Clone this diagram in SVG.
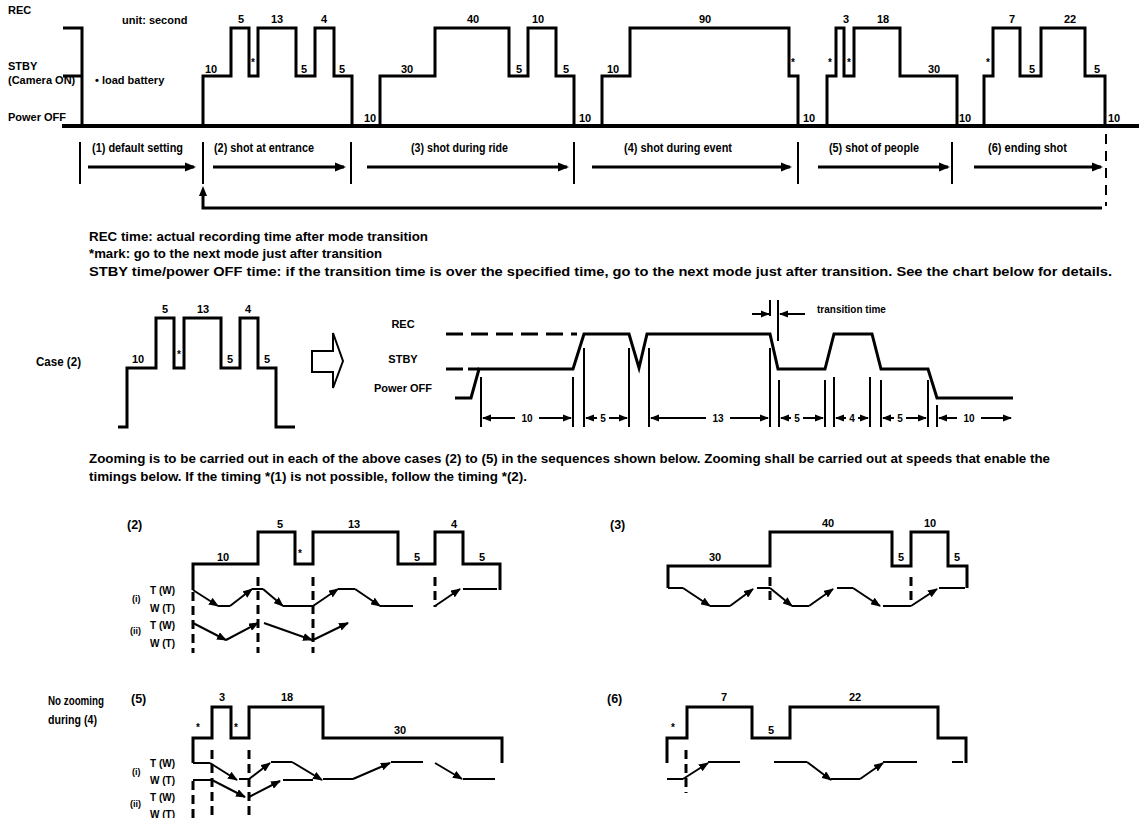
<svg xmlns="http://www.w3.org/2000/svg" width="1139" height="818" viewBox="0 0 1139 818">
<style>
text{font-family:"Liberation Sans",Arial,sans-serif;font-weight:bold;fill:#000}
.s11{font-size:11px}.s10{font-size:10px}.s12{font-size:12.5px}.s9{font-size:9px}.n12{font-size:12px}
.c{text-anchor:middle}
.w{fill:none;stroke:#000;stroke-width:3;stroke-linejoin:miter;stroke-linecap:butt}
.b{fill:none;stroke:#000;stroke-width:4}
.sep{stroke:#000;stroke-width:2}
.ar{stroke:#000;stroke-width:3;fill:none;marker-end:url(#ahB)}
.cv{stroke:#000;stroke-width:2;fill:none}
.ca{stroke:#000;stroke-width:2;fill:none;marker-end:url(#ahS)}
.dsh{stroke:#000;stroke-width:3;stroke-dasharray:9,5;fill:none}
.mk{stroke:#000;stroke-width:2}
.dm{stroke:#000;stroke-width:2;fill:none;marker-end:url(#ahD)}
</style>
<defs>
<marker id="ahB" markerUnits="userSpaceOnUse" markerWidth="11" markerHeight="10" refX="9" refY="5" orient="auto-start-reverse"><path d="M0,0.5 L11,5 L0,9.5 z" fill="#000"/></marker>
<marker id="ahS" markerUnits="userSpaceOnUse" markerWidth="10" markerHeight="8" refX="9" refY="4" orient="auto-start-reverse"><path d="M0,0 L10,4 L0,8 z" fill="#000"/></marker>
<marker id="ahD" markerUnits="userSpaceOnUse" markerWidth="9" markerHeight="8" refX="8" refY="4" orient="auto-start-reverse"><path d="M0,0.5 L9,4 L0,7.5 z" fill="#000"/></marker>
</defs>
<rect width="1139" height="818" fill="#fff"/>

<!-- Top timing chart -->
<g id="top-chart">
<text class="s11" x="8" y="14">REC</text>
<text class="s11" x="122" y="24">unit: second</text>
<text class="s11" x="8" y="70">STBY</text>
<text class="s11" x="8" y="84">(Camera ON)</text>
<text class="s11" x="95" y="84">• load battery</text>
<text class="s11" x="8" y="121">Power OFF</text>
<path class="w" d="M63,28 H82 V126"/>
<path class="w" d="M63,76 H82"/>
<path class="b" d="M62,126 H1139"/>
<path class="w" d="M203,126 V76 H231 V28 H249 V76 H258 V28 H296 V76 H315 V28 H334 V76 H352 V126"/>
<path class="w" d="M380,126 V76 H435 V28 H509 V76 H528 V28 H556 V76 H574 V126"/>
<path class="w" d="M602,126 V76 H630 V28 H789 V76 H798 V126"/>
<path class="w" d="M827,126 V76 H836 V28 H844 V76 H854 V28 H900 V76 H957 V126"/>
<path class="w" d="M984,126 V76 H993 V28 H1020 V76 H1041 V28 H1085 V76 H1105 V126"/>
<text class="s11 c" x="211" y="73">10</text>
<text class="s11 c" x="241" y="23">5</text>
<text class="s10 c" x="253" y="66">*</text>
<text class="s11 c" x="277" y="23">13</text>
<text class="s11 c" x="304" y="73">5</text>
<text class="s11 c" x="324" y="23">4</text>
<text class="s11 c" x="342" y="73">5</text>
<text class="s11 c" x="370" y="122">10</text>
<text class="s11 c" x="407" y="73">30</text>
<text class="s11 c" x="473" y="23">40</text>
<text class="s11 c" x="519" y="73">5</text>
<text class="s11 c" x="538" y="23">10</text>
<text class="s11 c" x="566" y="73">5</text>
<text class="s11 c" x="585" y="122">10</text>
<text class="s11 c" x="613" y="73">10</text>
<text class="s11 c" x="705" y="23">90</text>
<text class="s10 c" x="793" y="66">*</text>
<text class="s11 c" x="809" y="122">10</text>
<text class="s10 c" x="830" y="66">*</text>
<text class="s11 c" x="846" y="23">3</text>
<text class="s10 c" x="849" y="66">*</text>
<text class="s11 c" x="883" y="23">18</text>
<text class="s11 c" x="934" y="73">30</text>
<text class="s11 c" x="965" y="122">10</text>
<text class="s10 c" x="988" y="66">*</text>
<text class="s11 c" x="1012" y="23">7</text>
<text class="s11 c" x="1032" y="73">5</text>
<text class="s11 c" x="1070" y="23">22</text>
<text class="s11 c" x="1097" y="73">5</text>
<text class="s11 c" x="1114" y="122">10</text>
</g>

<!-- Sequence row -->
<g id="seq-row">
<g id="seq-1"><text class="n12" x="92" y="152" textLength="91" lengthAdjust="spacingAndGlyphs">(1) default setting</text></g>
<g id="seq-2"><text class="n12" x="214" y="152" textLength="100" lengthAdjust="spacingAndGlyphs">(2) shot at entrance</text></g>
<g id="seq-3"><text class="n12" x="411" y="152" textLength="97" lengthAdjust="spacingAndGlyphs">(3) shot during ride</text></g>
<g id="seq-4"><text class="n12" x="624" y="152" textLength="108" lengthAdjust="spacingAndGlyphs">(4) shot during event</text></g>
<g id="seq-5"><text class="n12" x="829" y="152" textLength="90" lengthAdjust="spacingAndGlyphs">(5) shot of people</text></g>
<g id="seq-6"><text class="n12" x="988" y="152" textLength="79" lengthAdjust="spacingAndGlyphs">(6) ending shot</text></g>
</g>
<g id="seq-connectors">
<line class="sep" x1="80" y1="142" x2="80" y2="184"/>
<line class="sep" x1="203" y1="142" x2="203" y2="184"/>
<line class="sep" x1="351" y1="142" x2="351" y2="184"/>
<line class="sep" x1="574" y1="142" x2="574" y2="184"/>
<line class="sep" x1="798" y1="142" x2="798" y2="184"/>
<line class="sep" x1="952" y1="142" x2="952" y2="184"/>
<line x1="1106" y1="134" x2="1106" y2="206" stroke="#000" stroke-width="2" stroke-dasharray="10,7"/>
<line class="ar" x1="88" y1="167" x2="194" y2="167"/>
<line class="ar" x1="213" y1="167" x2="344" y2="167"/>
<line class="ar" x1="367" y1="167" x2="567" y2="167"/>
<line class="ar" x1="592" y1="167" x2="790" y2="167"/>
<line class="ar" x1="818" y1="167" x2="948" y2="167"/>
<line class="ar" x1="974" y1="167" x2="1101" y2="167"/>
<path d="M1102,208 H203 V192" stroke="#000" stroke-width="3" fill="none"/>
<path d="M203,186 L199,196 L207,196 z" fill="#000"/>
</g>

<!-- Notes -->
<g id="notes">
<text class="n12" x="89" y="241" textLength="339" lengthAdjust="spacingAndGlyphs">REC time: actual recording time after mode transition</text>
<text class="n12" x="89" y="258" textLength="293" lengthAdjust="spacingAndGlyphs">*mark: go to the next mode just after transition</text>
<text class="n12" x="89" y="276" textLength="1023" lengthAdjust="spacingAndGlyphs">STBY time/power OFF time: if the transition time is over the specified time, go to the next mode just after transition. See the chart below for details.</text>
</g>

<!-- Case (2) -->
<g id="case2">
<text class="s12" x="36" y="366" textLength="45" lengthAdjust="spacingAndGlyphs">Case (2)</text>
<path class="w" d="M118,427 H127 V368 H156 V318 H174 V368 H184 V318 H221 V368 H240 V318 H258 V368 H276 V427 H295"/>
<text class="s11 c" x="138" y="363">10</text>
<text class="s11 c" x="165" y="313">5</text>
<text class="s10 c" x="179" y="358">*</text>
<text class="s11 c" x="203" y="313">13</text>
<text class="s11 c" x="230" y="363">5</text>
<text class="s11 c" x="248" y="313">4</text>
<text class="s11 c" x="267" y="363">5</text>
</g>
<g id="big-arrow">
<path d="M312,351 H333 V333 L343,361 L333,388 V372 H312 z" fill="#fff" stroke="#000" stroke-width="2"/>
</g>

<!-- Transition detail chart -->
<g id="transition-chart">
<text class="s11 c" x="403" y="328">REC</text>
<text class="s11 c" x="403" y="363">STBY</text>
<text class="s11 c" x="403" y="392">Power OFF</text>
<line x1="446" y1="334" x2="577" y2="334" stroke="#000" stroke-width="3" stroke-dasharray="17,8"/>
<line x1="446" y1="369" x2="479" y2="369" stroke="#000" stroke-width="3" stroke-dasharray="17,5"/>
<path class="w" d="M455,398 H471 L479,369 H573 L584,334 H629 L639,368 L647,334 H770 L778,369 H825 L834,334 H872 L881,369 H928 L937,398 H1013"/>
<g class="mk">
<line x1="481" y1="377" x2="481" y2="427"/>
<line x1="573" y1="377" x2="573" y2="427"/>
<line x1="584" y1="348" x2="584" y2="427"/>
<line x1="629" y1="348" x2="629" y2="427"/>
<line x1="649" y1="348" x2="649" y2="427"/>
<line x1="770" y1="348" x2="770" y2="427"/>
<line x1="779" y1="380" x2="779" y2="427"/>
<line x1="825" y1="380" x2="825" y2="427"/>
<line x1="834" y1="377" x2="834" y2="427"/>
<line x1="870" y1="377" x2="870" y2="427"/>
<line x1="881" y1="380" x2="881" y2="427"/>
<line x1="928" y1="380" x2="928" y2="427"/>
<line x1="937" y1="405" x2="937" y2="427"/>
<line x1="770" y1="300" x2="770" y2="316"/>
<line x1="778" y1="300" x2="778" y2="341"/>
</g>
<line class="dm" x1="752" y1="314" x2="769" y2="314"/>
<line class="dm" x1="805" y1="314" x2="780" y2="314"/>
<text class="s10" x="817" y="313">transition time</text>
<line class="dm" x1="515" y1="418" x2="483" y2="418"/><line class="dm" x1="539" y1="418" x2="571" y2="418"/>
<text class="s10 c" x="527" y="422">10</text>
<line class="dm" x1="597" y1="418" x2="586" y2="418"/><line class="dm" x1="609" y1="418" x2="627" y2="418"/>
<text class="s10 c" x="603" y="422">5</text>
<line class="dm" x1="706" y1="418" x2="651" y2="418"/><line class="dm" x1="730" y1="418" x2="768" y2="418"/>
<text class="s10 c" x="718" y="422">13</text>
<line class="dm" x1="791" y1="418" x2="781" y2="418"/><line class="dm" x1="803" y1="418" x2="823" y2="418"/>
<text class="s10 c" x="797" y="422">5</text>
<line class="dm" x1="846" y1="418" x2="836" y2="418"/><line class="dm" x1="858" y1="418" x2="868" y2="418"/>
<text class="s10 c" x="852" y="422">4</text>
<line class="dm" x1="894" y1="418" x2="883" y2="418"/><line class="dm" x1="906" y1="418" x2="926" y2="418"/>
<text class="s10 c" x="900" y="422">5</text>
<line class="dm" x1="957" y1="418" x2="939" y2="418"/><line class="dm" x1="981" y1="418" x2="1011" y2="418"/>
<text class="s10 c" x="969" y="422">10</text>
</g>

<!-- Zooming note -->
<g id="zoom-note">
<text class="n12" x="89" y="463" textLength="961" lengthAdjust="spacingAndGlyphs">Zooming is to be carried out in each of the above cases (2) to (5) in the sequences shown below. Zooming shall be carried out at speeds that enable the</text>
<text class="n12" x="89" y="481" textLength="438" lengthAdjust="spacingAndGlyphs">timings below. If the timing *(1) is not possible, follow the timing *(2).</text>
</g>

<!-- Zoom chart (2) -->
<g id="zoom2">
<text class="s12" x="127" y="529">(2)</text>
<path class="w" d="M193,590 V564 H258 V532 H295 V564 H313 V532 H398 V564 H435 V532 H463 V564 H500 V590"/>
<text class="s11 c" x="223" y="561">10</text>
<text class="s11 c" x="280" y="528">5</text>
<text class="s10 c" x="300" y="557">*</text>
<text class="s11 c" x="354" y="528">13</text>
<text class="s11 c" x="417" y="561">5</text>
<text class="s11 c" x="454" y="528">4</text>
<text class="s11 c" x="482" y="561">5</text>
<text class="s10" x="150" y="594">T (W)</text>
<text class="s9" x="132" y="602">(i)</text>
<text class="s10" x="150" y="612">W (T)</text>
<text class="s10" x="150" y="629">T (W)</text>
<text class="s9" x="130" y="634">(ii)</text>
<text class="s10" x="150" y="647">W (T)</text>
<path class="dsh" d="M193,592 V653 M258,577 V653 M313,577 V653 M435,577 V607"/>
<line class="ca" x1="193" y1="590" x2="218" y2="606"/>
<line class="cv" x1="218" y1="606" x2="230" y2="606"/>
<line class="ca" x1="230" y1="606" x2="252" y2="589"/>
<line class="cv" x1="252" y1="589" x2="263" y2="589"/>
<line class="ca" x1="263" y1="589" x2="283" y2="606"/>
<line class="cv" x1="283" y1="606" x2="313" y2="606"/>
<line class="ca" x1="313" y1="606" x2="338" y2="589"/>
<line class="cv" x1="338" y1="589" x2="355" y2="589"/>
<line class="ca" x1="355" y1="589" x2="380" y2="606"/>
<line class="cv" x1="380" y1="606" x2="413" y2="606"/>
<line class="ca" x1="435" y1="606" x2="460" y2="589"/>
<line class="cv" x1="463" y1="589" x2="497" y2="589"/>
<line class="ca" x1="193" y1="623" x2="226" y2="640"/>
<line class="ca" x1="226" y1="640" x2="258" y2="623"/>
<line class="ca" x1="264" y1="623" x2="312" y2="640"/>
<line class="ca" x1="313" y1="640" x2="348" y2="623"/>
</g>

<!-- Zoom chart (3) -->
<g id="zoom3">
<text class="s12" x="610" y="529">(3)</text>
<path class="w" d="M668,588 V566 H770 V532 H892 V566 H911 V532 H948 V566 H967 V588"/>
<text class="s11 c" x="715" y="561">30</text>
<text class="s11 c" x="828" y="527">40</text>
<text class="s11 c" x="901" y="561">5</text>
<text class="s11 c" x="930" y="527">10</text>
<text class="s11 c" x="957" y="561">5</text>
<path class="dsh" d="M770,577 V602 M911,577 V602"/>
<line class="cv" x1="668" y1="588" x2="683" y2="588"/>
<line class="ca" x1="683" y1="588" x2="710" y2="606"/>
<line class="cv" x1="710" y1="606" x2="730" y2="606"/>
<line class="ca" x1="730" y1="606" x2="753" y2="589"/>
<line class="cv" x1="757" y1="588" x2="770" y2="588"/>
<line class="ca" x1="770" y1="588" x2="792" y2="606"/>
<line class="cv" x1="792" y1="606" x2="809" y2="606"/>
<line class="ca" x1="809" y1="606" x2="833" y2="589"/>
<line class="cv" x1="837" y1="588" x2="853" y2="588"/>
<line class="ca" x1="853" y1="588" x2="880" y2="606"/>
<line class="cv" x1="883" y1="606" x2="911" y2="606"/>
<line class="ca" x1="911" y1="606" x2="937" y2="589"/>
<line class="cv" x1="939" y1="588" x2="965" y2="588"/>
</g>

<!-- No zooming note -->
<g id="no-zoom">
<text class="s12" x="48" y="705" textLength="56" lengthAdjust="spacingAndGlyphs">No zooming</text>
<text class="s12" x="48" y="724" textLength="49" lengthAdjust="spacingAndGlyphs">during (4)</text>
</g>

<!-- Zoom chart (5) -->
<g id="zoom5">
<text class="s12" x="131" y="703">(5)</text>
<path class="w" d="M193,763 V738 H212 V707 H231 V738 H249 V707 H323 V738 H502 V763"/>
<text class="s10 c" x="198" y="731">*</text>
<text class="s11 c" x="222" y="701">3</text>
<text class="s10 c" x="236" y="731">*</text>
<text class="s11 c" x="287" y="701">18</text>
<text class="s11 c" x="400" y="734">30</text>
<text class="s10" x="150" y="767">T (W)</text>
<text class="s9" x="132" y="775">(i)</text>
<text class="s10" x="150" y="784">W (T)</text>
<text class="s10" x="150" y="801">T (W)</text>
<text class="s9" x="130" y="807">(ii)</text>
<text class="s10" x="150" y="818">W (T)</text>
<path class="dsh" d="M193,781 V818 M212,750 V818 M249,750 V818"/>
<line class="cv" x1="193" y1="763" x2="210" y2="763"/>
<line class="ca" x1="210" y1="763" x2="237" y2="780"/>
<line class="cv" x1="239" y1="779" x2="249" y2="779"/>
<line class="ca" x1="249" y1="779" x2="270" y2="763"/>
<line class="cv" x1="271" y1="762" x2="292" y2="762"/>
<line class="ca" x1="292" y1="762" x2="322" y2="780"/>
<line class="cv" x1="323" y1="779" x2="353" y2="779"/>
<line class="ca" x1="353" y1="779" x2="390" y2="763"/>
<line class="cv" x1="391" y1="762" x2="423" y2="762"/>
<line class="ca" x1="435" y1="763" x2="462" y2="779"/>
<line class="cv" x1="463" y1="779" x2="495" y2="779"/>
<line class="cv" x1="193" y1="780" x2="212" y2="780"/>
<line class="ca" x1="212" y1="780" x2="245" y2="797"/>
<line class="ca" x1="249" y1="797" x2="280" y2="781"/>
<line class="cv" x1="283" y1="780" x2="313" y2="780"/>
</g>

<!-- Zoom chart (6) -->
<g id="zoom6">
<text class="s12" x="607" y="703">(6)</text>
<path class="w" d="M667,763 V738 H687 V707 H752 V738 H790 V707 H938 V738 H966 V763"/>
<text class="s10 c" x="673" y="731">*</text>
<text class="s11 c" x="724" y="701">7</text>
<text class="s11 c" x="771" y="734">5</text>
<text class="s11 c" x="855" y="701">22</text>
<path class="dsh" d="M686,750 V793"/>
<line class="cv" x1="667" y1="779" x2="683" y2="779"/>
<line class="ca" x1="683" y1="779" x2="708" y2="763"/>
<line class="cv" x1="708" y1="762" x2="740" y2="762"/>
<line class="cv" x1="774" y1="762" x2="807" y2="762"/>
<line class="ca" x1="807" y1="762" x2="831" y2="780"/>
<line class="cv" x1="831" y1="779" x2="860" y2="779"/>
<line class="ca" x1="860" y1="779" x2="883" y2="763"/>
<line class="cv" x1="883" y1="762" x2="917" y2="762"/>
<line class="cv" x1="952" y1="762" x2="963" y2="762"/>
</g>
</svg>
